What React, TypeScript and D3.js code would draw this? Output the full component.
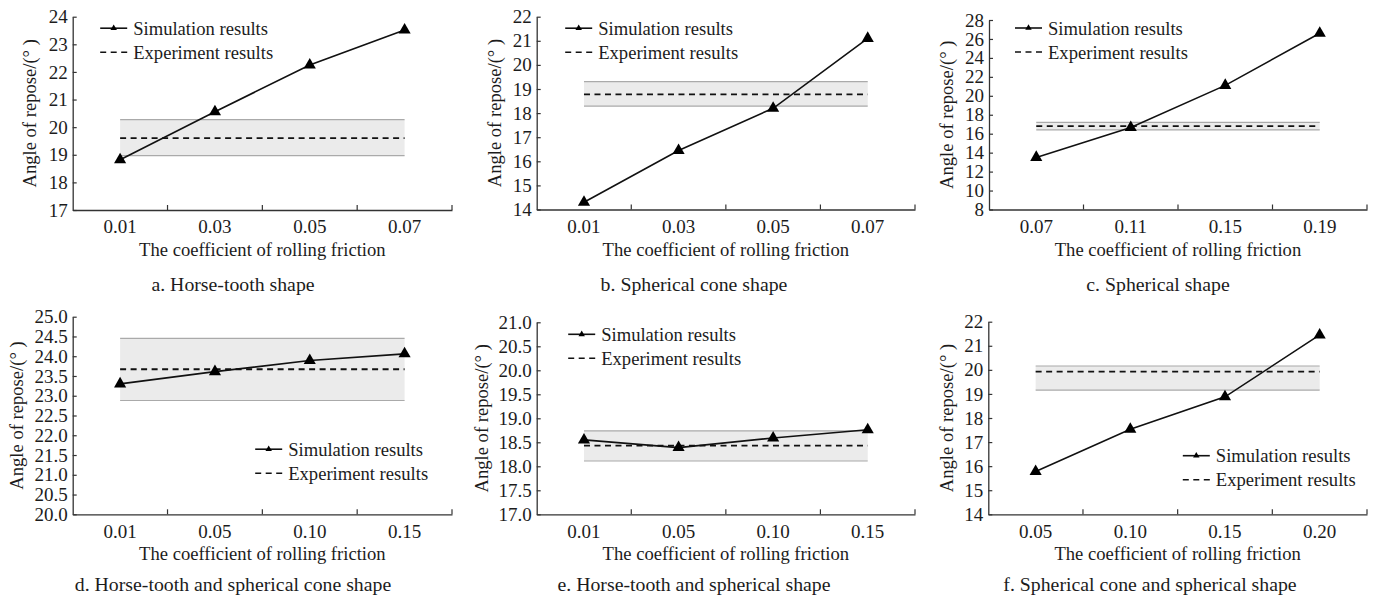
import React, { useEffect, useRef } from "react";
import * as d3 from "d3";

// category labels on the x axis
const catsA = ["0.01", "0.03", "0.05", "0.07"];
const catsB = ["0.01", "0.03", "0.05", "0.07"];
const catsC = ["0.07", "0.11", "0.15", "0.19"];
const catsD = ["0.01", "0.05", "0.10", "0.15"];
const catsE = ["0.01", "0.05", "0.10", "0.15"];
const catsF = ["0.05", "0.10", "0.15", "0.20"];

// simulation results (angle of repose, degrees)
const simA = [18.82, 20.56, 22.25, 23.52];
const simB = [14.3, 16.45, 18.2, 21.1];
const simC = [13.5, 16.65, 21.1, 26.6];
const simD = [23.3, 23.61, 23.89, 24.06];
const simE = [18.55, 18.39, 18.59, 18.76];
const simF = [15.78, 17.53, 18.88, 21.45];

// experiment mean and its range [low, high]
const expA = 19.6, rangeA = [18.97, 20.27];
const expB = 18.78, rangeB = [18.29, 19.31];
const expC = 16.8, rangeC = [16.4, 17.2];
const expD = 23.67, rangeD = [22.88, 24.45];
const expE = 18.43, rangeE = [18.11, 18.74];
const expF = 19.93, rangeF = [19.16, 20.16];

// y axis ticks
const ticksA = [17, 18, 19, 20, 21, 22, 23, 24];
const ticksB = [14, 15, 16, 17, 18, 19, 20, 21, 22];
const ticksC = [8, 10, 12, 14, 16, 18, 20, 22, 24, 26, 28];
const ticksD = [20, 20.5, 21, 21.5, 22, 22.5, 23, 23.5, 24, 24.5, 25];
const ticksE = [17, 17.5, 18, 18.5, 19, 19.5, 20, 20.5, 21];
const ticksF = [14, 15, 16, 17, 18, 19, 20, 21, 22];

const captions = [
  "a. Horse-tooth shape",
  "b. Spherical cone shape",
  "c. Spherical shape",
  "d. Horse-tooth and spherical cone shape",
  "e. Horse-tooth and spherical shape",
  "f. Spherical cone and spherical shape",
];

const FONT = "'Liberation Serif', 'Times New Roman', serif";
const FS = 18.6;
const INK = "#1c1c1c";

const panels = [
  { cats: catsA, sim: simA, exp: expA, range: rangeA, ticks: ticksA, fmt: "d", left: 72.7, right: 452, top: 16.7, bottom: 210, capX: 233, capY: 291, titleOff: 43, leg: [27.5, 11.5] },
  { cats: catsB, sim: simB, exp: expB, range: rangeB, ticks: ticksB, fmt: "d", left: 536.7, right: 915, top: 16.7, bottom: 209.5, capX: 694, capY: 291, titleOff: 42.5, leg: [28.5, 11.5] },
  { cats: catsC, sim: simC, exp: expC, range: rangeC, ticks: ticksC, fmt: "d", left: 989, right: 1367, top: 20, bottom: 209.5, capX: 1158, capY: 291, titleOff: 42.5, leg: [26, 8] },
  { cats: catsD, sim: simD, exp: expD, range: rangeD, ticks: ticksD, fmt: ".1f", left: 72.7, right: 452, top: 316.7, bottom: 514.3, capX: 233, capY: 591, titleOff: 56, leg: [182.5, 132.5] },
  { cats: catsE, sim: simE, exp: expE, range: rangeE, ticks: ticksE, fmt: ".1f", left: 536.7, right: 915, top: 322.3, bottom: 514.3, capX: 694, capY: 591, titleOff: 55, leg: [31.5, 12] },
  { cats: catsF, sim: simF, exp: expF, range: rangeF, ticks: ticksF, fmt: "d", left: 988.3, right: 1367, top: 321.7, bottom: 514.3, capX: 1150, capY: 591, titleOff: 41.5, leg: [194.5, 134] },
];

function App() {
  const ref = useRef(null);

  useEffect(() => {
    const svg = d3.select(ref.current);
    svg.selectAll("*").remove();

    panels.forEach((p, i) => {
      const g = svg.append("g");
      const x = d3.scaleBand().domain(p.cats).range([p.left, p.right]).padding(0);
      const y = d3
        .scaleLinear()
        .domain([p.ticks[0], p.ticks[p.ticks.length - 1]])
        .range([p.bottom, p.top]);
      const cx = (c) => x(c) + x.bandwidth() / 2;
      const x0 = cx(p.cats[0]);
      const x1 = cx(p.cats[p.cats.length - 1]);

      // experiment range band
      g.append("rect")
        .attr("x", x0)
        .attr("y", y(p.range[1]))
        .attr("width", x1 - x0)
        .attr("height", y(p.range[0]) - y(p.range[1]))
        .attr("fill", "#ebebeb");
      p.range.forEach((v) => {
        g.append("line")
          .attr("x1", x0).attr("x2", x1)
          .attr("y1", y(v)).attr("y2", y(v))
          .attr("stroke", "#aaaaaa").attr("stroke-width", 1.2);
      });

      // experiment mean
      g.append("line")
        .attr("x1", x0).attr("x2", x1)
        .attr("y1", y(p.exp)).attr("y2", y(p.exp))
        .attr("stroke", "#111").attr("stroke-width", 1.8)
        .attr("stroke-dasharray", "6,4.5");

      // simulation line
      const line = d3.line().x((d, j) => cx(p.cats[j])).y((d) => y(d));
      g.append("path")
        .attr("d", line(p.sim))
        .attr("fill", "none")
        .attr("stroke", "#111")
        .attr("stroke-width", 1.6);

      const tri = d3.symbol().type(d3.symbolTriangle).size(64);
      g.selectAll(".pt")
        .data(p.sim)
        .enter()
        .append("path")
        .attr("d", tri())
        .attr("transform", (d, j) => `translate(${cx(p.cats[j])},${y(d)})`)
        .attr("fill", "#000");

      // y axis
      const ya = g
        .append("g")
        .attr("transform", `translate(${p.left},0)`)
        .call(
          d3.axisLeft(y)
            .tickValues(p.ticks)
            .tickFormat(d3.format(p.fmt))
            .tickSizeInner(-4)
            .tickSizeOuter(0)
            .tickPadding(5)
        );
      ya.select(".domain").attr("stroke", "#333").attr("stroke-width", 1.3);
      ya.selectAll(".tick line").attr("stroke", "#333").attr("stroke-width", 1.2);
      ya.selectAll("text")
        .attr("font-family", FONT)
        .attr("font-size", 19)
        .attr("fill", INK);

      // x axis with ticks at category boundaries
      const xa = g
        .append("g")
        .attr("transform", `translate(0,${p.bottom})`)
        .call(d3.axisBottom(x).tickSize(0).tickPadding(10));
      xa.select(".domain").attr("stroke", "#333").attr("stroke-width", 1.3);
      xa.selectAll("text")
        .attr("font-family", FONT)
        .attr("font-size", 19)
        .attr("fill", INK);
      p.cats.forEach((c) => {
        const bx = x(c) + x.bandwidth();
        g.append("line")
          .attr("x1", bx).attr("x2", bx)
          .attr("y1", p.bottom).attr("y2", p.bottom - 5)
          .attr("stroke", "#333").attr("stroke-width", 1.2);
      });

      // axis titles
      g.append("text")
        .attr("x", (p.left + p.right) / 2)
        .attr("y", p.bottom + 46)
        .attr("text-anchor", "middle")
        .attr("font-family", FONT)
        .attr("font-size", FS)
        .attr("fill", INK)
        .text("The coefficient of rolling friction");
      g.append("text")
        .attr(
          "transform",
          `translate(${p.left - p.titleOff},${(p.top + p.bottom) / 2}) rotate(-90)`
        )
        .attr("text-anchor", "middle")
        .attr("dy", "0.35em")
        .attr("font-family", FONT)
        .attr("font-size", FS)
        .attr("fill", INK)
        .text("Angle of repose/(° )");

      // caption
      g.append("text")
        .attr("x", p.capX)
        .attr("y", p.capY)
        .attr("text-anchor", "middle")
        .attr("font-family", FONT)
        .attr("font-size", 19.8)
        .attr("fill", INK)
        .text(captions[i]);

      // legend
      const lx = p.left + p.leg[0];
      const ly = p.top + p.leg[1];
      g.append("line")
        .attr("x1", lx).attr("x2", lx + 27)
        .attr("y1", ly).attr("y2", ly)
        .attr("stroke", "#111").attr("stroke-width", 1.6);
      g.append("path")
        .attr("d", d3.symbol().type(d3.symbolTriangle).size(18)())
        .attr("transform", `translate(${lx + 13.5},${ly})`)
        .attr("fill", "#000");
      g.append("line")
        .attr("x1", lx).attr("x2", lx + 27)
        .attr("y1", ly + 24).attr("y2", ly + 24)
        .attr("stroke", "#111").attr("stroke-width", 1.6)
        .attr("stroke-dasharray", "6,4.5");
      ["Simulation results", "Experiment results"].forEach((t, k) => {
        g.append("text")
          .attr("x", lx + 33)
          .attr("y", ly + k * 24)
          .attr("dy", "0.35em")
          .attr("font-family", FONT)
          .attr("font-size", FS)
          .attr("fill", INK)
          .text(t);
      });
    });
  }, []);

  return (
    <div>
      <svg
        ref={ref}
        width={1377}
        height={599}
        style={{ position: "absolute", left: 0, top: 0, background: "#fff" }}
      ></svg>
    </div>
  );
}

export default App;
